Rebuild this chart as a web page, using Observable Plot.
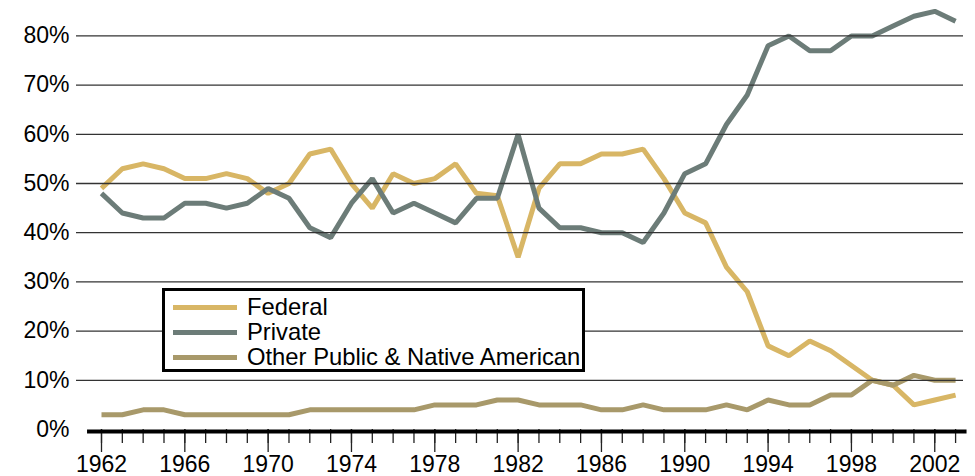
<!DOCTYPE html>
<html>
<head>
<meta charset="utf-8">
<script src="https://cdn.jsdelivr.net/npm/d3@7"></script>
<script src="https://cdn.jsdelivr.net/npm/@observablehq/plot@0.6"></script>
<style>
  html, body { margin: 0; padding: 0; background: #fff; }
  #wrap { position: relative; width: 975px; height: 476px; font-family: "Liberation Sans", Arial, sans-serif; }
  #legend { position: absolute; left: 162px; top: 288px; width: 417px; height: 78px; border: 3px solid #000; background: #fff; }
  .item { position: absolute; left: 8px; height: 25px; width: 405px; }
  .swatch { position: absolute; left: 0; width: 64px; height: 5px; }
  .label { position: absolute; left: 74px; font-size: 23.8px; line-height: 24px; color: #000; white-space: nowrap; }
</style>
</head>
<body>
<div id="wrap"></div>
<script>
const years = d3.range(1962, 2004);
const federal = [49,53,54,53,51,51,52,51,48,50,56,57,50,45,52,50,51,54,48,47.5,35,49,54,54,56,56,57,51,44,42,33,28,17,15,18,16,13,10,9,5,6,7];
const privateShare = [48,44,43,43,46,46,45,46,49,47,41,39,46,51,44,46,44,42,47,47,60,45,41,41,40,40,38,44,52,54,62,68,78,80,77,77,80,80,82,84,85,83];
const otherPublic = [3,3,4,4,3,3,3,3,3,3,4,4,4,4,4,4,5,5,5,6,6,5,5,5,4,4,5,4,4,4,5,4,6,5,5,7,7,10,9,11,10,10];
const seriesNames = ["Federal", "Private", "Other Public & Native American"];
const seriesColors = ["#D8B665", "#6C7C78", "#A8996A"];
const yTicks = [0,10,20,30,40,50,60,70,80];
const gridValues = [10,20,30,40,50,60,70,80];
const xLabelYears = d3.range(1962, 2004, 4);

const seriesValues = [federal, privateShare, otherPublic];
const data = [];
seriesNames.forEach((name, i) => {
  years.forEach((yr, j) => data.push({year: yr, value: seriesValues[i][j], series: name}));
});

const chart = Plot.plot({
  width: 975,
  height: 476,
  marginLeft: 76,
  marginRight: 12,
  marginTop: 0,
  marginBottom: 47,
  style: {fontFamily: "'Liberation Sans', Arial, sans-serif", fontSize: "23px", color: "#000", background: "#fff"},
  x: {domain: [1960.8, 2003.38]},
  y: {domain: [0, 87.2]},
  color: {domain: seriesNames, range: seriesColors},
  marks: [
    Plot.line(data, {x: "year", y: "value", stroke: "series", z: "series", strokeWidth: 5, strokeLinejoin: "miter", strokeLinecap: "butt"}),
    Plot.ruleY(gridValues, {x1: 1960.8, x2: 2003.38, stroke: "#333", strokeWidth: 1.3}),
    Plot.axisY({ticks: yTicks, tickSize: 0, tickPadding: 7, tickFormat: d => d + "%", label: null, fontSize: 23}),
    Plot.axisX({ticks: years, tickSize: 14, tickFormat: () => "", label: null, stroke: "#222", strokeWidth: 1.3}),
    Plot.axisX({ticks: xLabelYears, tickSize: 23, tickPadding: 3, tickFormat: d => String(d), label: null, stroke: "#222", strokeWidth: 1.3, fontSize: 23}),
    Plot.ruleY([0], {x1: 1961.33, x2: 2003.55, stroke: "#000", strokeWidth: 4, dy: 2})
  ]
});

const wrap = document.getElementById("wrap");
wrap.appendChild(chart);

const legend = document.createElement("div");
legend.id = "legend";
const tops = [6, 31, 56];
seriesNames.forEach((name, i) => {
  const item = document.createElement("div");
  item.className = "item";
  item.style.top = tops[i] + "px";
  const sw = document.createElement("div");
  sw.className = "swatch";
  sw.style.background = seriesColors[i];
  sw.style.top = "8px";
  const lb = document.createElement("div");
  lb.className = "label";
  lb.style.top = "-2px";
  lb.textContent = name;
  item.appendChild(sw);
  item.appendChild(lb);
  legend.appendChild(item);
});
wrap.appendChild(legend);
</script>
</body>
</html>
